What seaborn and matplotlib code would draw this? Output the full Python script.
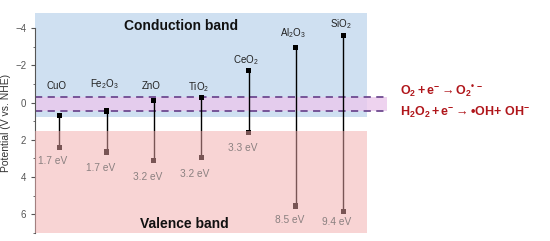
import numpy as np
import pandas as pd
import seaborn as sns
import matplotlib.pyplot as plt
from matplotlib.ticker import MultipleLocator

# band edges (V vs. NHE)
materials = ['CuO', 'Fe$_2$O$_3$', 'ZnO', 'TiO$_2$', 'CeO$_2$', 'Al$_2$O$_3$', 'SiO$_2$']
cb_edge = [0.7, 0.45, -0.1, -0.27, -1.7, -2.95, -3.6]
vb_edge = [2.4, 2.65, 3.1, 2.93, 1.6, 5.55, 5.85]
gap_labels = ['1.7 eV', '1.7 eV', '3.2 eV', '3.2 eV', '3.3 eV', '8.5 eV', '9.4 eV']
name_y = [-0.9, -1.0, -0.9, -0.85, -2.3, -3.7, -4.2]
gap_y = [3.15, 3.5, 4.0, 3.85, 2.45, 6.3, 6.4]
redox = [-0.3, 0.45]
reactions = [r'$\mathbf{O_2 + e^{-}} \rightarrow \mathbf{O_2}^{\mathbf{•\,-}}$',
             r'$\mathbf{H_2O_2 + e^{-}} \rightarrow \mathbf{•OH\!+\,OH^{-}}$']

df = pd.DataFrame({'x': np.arange(len(materials)), 'cb': cb_edge, 'vb': vb_edge})

sns.set_style('ticks')
plt.rcParams['font.family'] = ['Liberation Sans', 'DejaVu Sans']
plt.rcParams['mathtext.fontset'] = 'custom'
plt.rcParams['mathtext.rm'] = 'Liberation Sans'
plt.rcParams['mathtext.it'] = 'Liberation Sans'
plt.rcParams['mathtext.bf'] = 'Liberation Sans:bold'

fig = plt.figure(figsize=(5.5, 2.41), dpi=100)
ax = fig.add_axes([0.064, 0.033, 0.64, 0.913])
xmin, xmax = -0.507, 6.93
ax.set_xlim(xmin, xmax)
ax.set_ylim(7, -4.8)

# conduction band region and redox band
ax.axhspan(-4.8, 0.8, xmin=0, xmax=(6.51 - xmin) / (xmax - xmin), color='#cfe0f1', zorder=0, lw=0)
ax.axhspan(redox[0], redox[1], color='#eac8ec', alpha=0.8, zorder=1, lw=0)
for r in redox:
    ax.axhline(r, color='#6e4a90', ls=(0, (4, 3)), lw=1.3, zorder=2)

# band gap lines
ax.vlines(df['x'], df['cb'], df['vb'], color='black', lw=1.0, zorder=3)
sns.scatterplot(data=df, x='x', y='cb', marker='s', s=14, color='black', edgecolor='none', ax=ax, zorder=4)
sns.scatterplot(data=df, x='x', y='vb', marker='s', s=14, color='black', edgecolor='none', ax=ax, zorder=4)

# valence band region drawn on top (semi-transparent)
ax.axhspan(1.55, 7, xmin=0, xmax=(6.51 - xmin) / (xmax - xmin), color='#f2abab', alpha=0.5, zorder=5, lw=0)

for i, m in enumerate(materials):
    ax.text(i - 0.05, name_y[i], m, ha='center', va='center', fontsize=7, color='#222222', zorder=6)
    ax.text(i - 0.13, gap_y[i], gap_labels[i], ha='center', va='center', fontsize=7.3, color='#8a8080', zorder=6)

ax.text(2.57, -4.1, 'Conduction band', ha='center', va='center', fontsize=10, fontweight='bold', color='#111111')
ax.text(2.65, 6.5, 'Valence band', ha='center', va='center', fontsize=10, fontweight='bold', color='#111111', zorder=6)

for r, txt in zip([-0.6, 0.55], reactions):
    ax.text(7.2, r, txt, ha='left', va='center', fontsize=9, color='#b0161b', clip_on=False)

ax.set_xlabel('')
ax.set_ylabel('Potential (V vs. NHE)', fontsize=7.5, color='#333333', labelpad=3)
ax.set_xticks([])
ax.set_yticks([-4, -2, 0, 2, 4, 6])
ax.yaxis.set_minor_locator(MultipleLocator(1))
ax.tick_params(axis='y', labelsize=7, colors='#555555', length=3, width=0.8)
ax.tick_params(axis='y', which='minor', length=1.5, colors='#555555')
for s in ['top', 'right', 'bottom']:
    ax.spines[s].set_visible(False)
ax.spines['left'].set_bounds(-4, 7)
ax.spines['left'].set_color('#555555')
ax.spines['left'].set_linewidth(0.8)

fig.savefig('out.png', dpi=100)
